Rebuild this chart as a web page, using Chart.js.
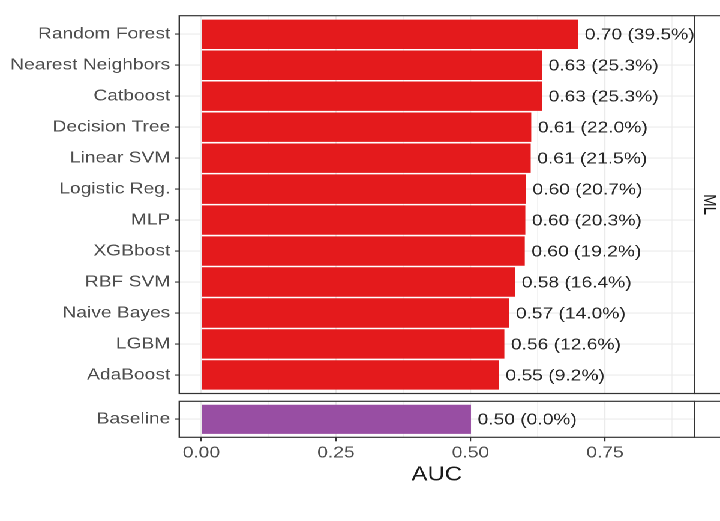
<!DOCTYPE html>
<html>
<head>
<meta charset="utf-8">
<script src="https://cdn.jsdelivr.net/npm/chart.js@4"></script>
<style>
  body { margin: 0; background: #fff; overflow: hidden; }
  /* the reference is stretched sideways, so draw at 600px and widen by 1.2 */
  #wrap { position: absolute; left: 0; top: 0; width: 600px; height: 521px; transform: scaleX(1.2); transform-origin: 0 0; }
  #wrap canvas { position: absolute; left: 0; }
</style>
</head>
<body>
<div id="wrap">
  <canvas id="mlChart" width="600" height="410" style="top:0"></canvas>
  <canvas id="baseChart" width="600" height="134" style="top:387px"></canvas>
</div>
<script>
const models = ['Random Forest', 'Nearest Neighbors', 'Catboost', 'Decision Tree', 'Linear SVM', 'Logistic Reg.',
  'MLP', 'XGBbost', 'RBF SVM', 'Naive Bayes', 'LGBM', 'AdaBoost'];
const aucML = [0.700, 0.633, 0.633, 0.613, 0.612, 0.603, 0.602, 0.601, 0.583, 0.572, 0.563, 0.553];
const gainML = [39.5, 25.3, 25.3, 22.0, 21.5, 20.7, 20.3, 19.2, 16.4, 14.0, 12.6, 9.2];
const baseNames = ['Baseline'];
const aucBase = [0.501];
const gainBase = [0.0];
const xTicks = [0, 0.125, 0.25, 0.375, 0.5, 0.625, 0.75, 0.875];
const facetName = 'ML';

const FONT = "'Liberation Sans', Arial, sans-serif";
const X_MIN = -0.041, X_MAX = 0.916;
const isMajor = v => Math.abs(v * 4 - Math.round(v * 4)) < 1e-6;

// panel border, facet strip and the value labels next to the bars
const panelPlugin = {
  id: 'panel',
  afterDatasetsDraw(chart, args, opts) {
    const ctx = chart.ctx;
    const meta = chart.getDatasetMeta(0);
    ctx.save();
    ctx.font = '16px ' + FONT;
    ctx.fillStyle = '#262626';
    ctx.textBaseline = 'middle';
    meta.data.forEach((bar, i) => {
      const txt = opts.auc[i].toFixed(2) + ' (' + opts.gain[i].toFixed(1) + '%)';
      ctx.fillText(txt, bar.x + 5.5, bar.y + 1);
    });
    ctx.restore();
  },
  afterDraw(chart, args, opts) {
    const ctx = chart.ctx;
    const a = chart.chartArea;
    ctx.save();
    ctx.strokeStyle = '#333';
    ctx.lineWidth = 1.2;
    ctx.strokeRect(a.left, a.top, a.right - a.left, a.bottom - a.top);
    ctx.beginPath();
    ctx.moveTo(a.right, a.top);
    ctx.lineTo(chart.width, a.top);
    ctx.moveTo(a.right, a.bottom);
    ctx.lineTo(chart.width, a.bottom);
    ctx.stroke();
    if (opts.strip) {
      ctx.translate(a.right + 12.5, (a.top + a.bottom) / 2);
      ctx.rotate(Math.PI / 2);
      ctx.font = '15px ' + FONT;
      ctx.fillStyle = '#1a1a1a';
      ctx.textAlign = 'center';
      ctx.textBaseline = 'middle';
      ctx.fillText(opts.strip, 0, 0);
    }
    ctx.restore();
  }
};

function xScale(showLabels) {
  return {
    type: 'linear',
    min: X_MIN,
    max: X_MAX,
    bounds: 'data',
    offset: false,
    afterBuildTicks: s => { s.ticks = xTicks.map(v => ({ value: v })); },
    afterFit: s => { s.height = showLabels ? 49.7 : 0; },
    border: { display: false },
    grid: {
      offset: false,
      color: '#ebebeb',
      lineWidth: c => isMajor(c.tick.value) ? 1.1 : 0.6,
      drawTicks: showLabels,
      tickLength: 4,
      tickColor: c => isMajor(c.tick.value) ? '#333' : 'rgba(0,0,0,0)'
    },
    ticks: {
      display: showLabels,
      autoSkip: false,
      maxRotation: 0,
      padding: 2,
      color: '#4d4d4d',
      font: { family: FONT, size: 16 },
      callback: v => isMajor(v) ? v.toFixed(2) : ''
    },
    title: {
      display: showLabels,
      text: 'AUC',
      color: '#1a1a1a',
      padding: { top: 0, bottom: 0 },
      font: { family: FONT, size: 20 }
    }
  };
}

function yScale(names) {
  return {
    type: 'linear',
    reverse: true,
    min: -0.6,
    max: names.length - 0.4,
    bounds: 'data',
    offset: false,
    afterBuildTicks: s => { s.ticks = names.map((n, i) => ({ value: i })); },
    afterFit: s => { s.width = 149.4; },
    border: { display: false },
    grid: { offset: false, color: '#ebebeb', lineWidth: 1.1, tickLength: 3.5, tickColor: '#333' },
    ticks: {
      padding: 4,
      color: '#4d4d4d',
      font: { family: FONT, size: 16 },
      callback: v => names[v]
    }
  };
}

new Chart(document.getElementById('mlChart'), {
  type: 'bar',
  data: {
    datasets: [{
      data: aucML.map((v, i) => ({ x: v, y: i })),
      backgroundColor: '#e41a1c',
      barPercentage: 0.95,
      categoryPercentage: 1
    }]
  },
  options: {
    indexAxis: 'y',
    responsive: false,
    animation: false,
    devicePixelRatio: 2,
    layout: { padding: { left: 0, top: 15.7, right: 21.4, bottom: 16.5 } },
    scales: { x: xScale(false), y: yScale(models) },
    plugins: {
      legend: { display: false },
      tooltip: { enabled: false },
      panel: { auc: aucML, gain: gainML, strip: facetName }
    }
  },
  plugins: [panelPlugin]
});

new Chart(document.getElementById('baseChart'), {
  type: 'bar',
  data: {
    datasets: [{
      data: aucBase.map((v, i) => ({ x: v, y: i })),
      backgroundColor: '#984ea3',
      barPercentage: 0.81,
      categoryPercentage: 1
    }]
  },
  options: {
    indexAxis: 'y',
    responsive: false,
    animation: false,
    devicePixelRatio: 2,
    layout: { padding: { left: 0, top: 14.3, right: 21.4, bottom: 34 } },
    scales: { x: xScale(true), y: yScale(baseNames) },
    plugins: {
      legend: { display: false },
      tooltip: { enabled: false },
      panel: { auc: aucBase, gain: gainBase, strip: '' }
    }
  },
  plugins: [panelPlugin]
});
</script>
</body>
</html>
